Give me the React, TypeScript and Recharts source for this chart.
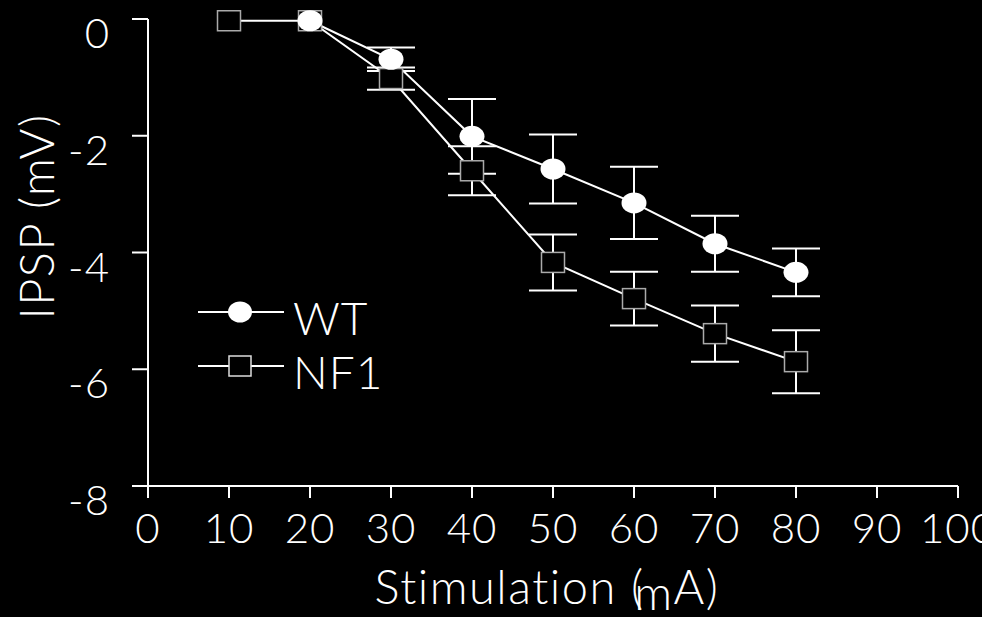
import { LineChart, Line, XAxis, YAxis, ErrorBar, Legend, Label } from "recharts";

const FONT = "Lato, 'Open Sans', sans-serif";
const W = 300;

// stimulation intensity (x) and IPSP amplitude (mV), mean ± SEM
const stimulation = [10, 20, 30, 40, 50, 60, 70, 80];
const wtMean = [null, -0.03, -0.69, -2.01, -2.57, -3.15, -3.85, -4.34];
const wtSem = [null, 0, 0.2, 0.64, 0.59, 0.62, 0.48, 0.41];
const nf1Mean = [-0.03, -0.03, -1.02, -2.6, -4.17, -4.79, -5.39, -5.87];
const nf1Sem = [0, 0, 0.19, 0.42, 0.48, 0.46, 0.48, 0.54];

const xTicks = [0, 10, 20, 30, 40, 50, 60, 70, 80, 90, 100];
const yTicks = [-8, -6, -4, -2, 0];

const data = stimulation.map((s, i) => ({
  stim: s,
  wt: wtMean[i],
  wtErr: wtSem[i],
  nf1: nf1Mean[i],
  nf1Err: nf1Sem[i],
}));

const CircleDot = (props: any) => {
  const { cx, cy, index } = props;
  if (cx == null || cy == null) return <g key={`wt-${index}`} />;
  return <ellipse key={`wt-${index}`} cx={cx} cy={cy} rx={12.5} ry={10.5} fill="#fff" />;
};

const SquareDot = (props: any) => {
  const { cx, cy, index } = props;
  if (cx == null || cy == null) return <g key={`nf-${index}`} />;
  return (
    <rect key={`nf-${index}`} x={cx - 11.5} y={cy - 10} width={23} height={20} fill="#000" stroke="#aaa" strokeWidth={1.5} />
  );
};

const XTick = (props: any) => {
  const { x, y, payload } = props;
  return (
    <text x={x} y={y} dy={43} textAnchor="middle" fill="#fff" fontSize={42} fontWeight={W} fontFamily={FONT} letterSpacing={1}>
      {payload.value}
    </text>
  );
};

const YTick = (props: any) => {
  const { x, y, payload } = props;
  return (
    <text x={x} y={y} dy={29} textAnchor="end" fill="#fff" fontSize={42} fontWeight={W} fontFamily={FONT} letterSpacing={1}>
      {payload.value}
    </text>
  );
};

const XTitle = (props: any) => {
  const { viewBox } = props;
  const cx = viewBox.x + viewBox.width / 2 - 6;
  return (
    <text x={cx} y={604} textAnchor="middle" fill="#fff" fontSize={47} fontWeight={W} fontFamily={FONT} letterSpacing={1.5}>
      Stimulation (<tspan dx={-10} dy={6}>m</tspan>
      <tspan dy={-6}>A)</tspan>
    </text>
  );
};

const YTitle = (props: any) => {
  const { viewBox } = props;
  const cy = viewBox.y + viewBox.height / 2 - 36;
  return (
    <text x={54} y={cy} transform={`rotate(-90 54 ${cy})`} textAnchor="middle" fill="#fff" fontSize={47} fontWeight={W} fontFamily={FONT} letterSpacing={1.5}>
      IPSP (mV)
    </text>
  );
};

const legendRows = [
  { name: "WT", shape: "circle" },
  { name: "NF1", shape: "square" },
];

const LegendBox = () => (
  <div style={{ fontFamily: FONT, color: "#fff", fontWeight: W }}>
    {legendRows.map((r) => (
      <div key={r.name} style={{ display: "flex", alignItems: "center", height: 54 }}>
        <svg width={86} height={30} style={{ display: "block" }}>
          <line x1={0} y1={15} x2={86} y2={15} stroke="#fff" strokeWidth={2} />
          {r.shape === "circle" ? (
            <ellipse cx={42} cy={15} rx={12} ry={10.5} fill="#fff" />
          ) : (
            <rect x={31} y={5} width={22} height={20} fill="#000" stroke="#ddd" strokeWidth={1.5} />
          )}
        </svg>
        <span style={{ fontSize: 46, marginLeft: 9, lineHeight: "54px", position: "relative", top: 6, letterSpacing: 1 }}>{r.name}</span>
      </div>
    ))}
  </div>
);

export default function App() {
  return (
    <div style={{ position: "fixed", left: 0, top: 0, width: 982, height: 617, background: "#000" }}>
      <LineChart width={982} height={617} data={data} margin={{ top: 19, right: 24, bottom: 71, left: 0 }}>
        <XAxis
          dataKey="stim"
          type="number"
          domain={[0, 100]}
          ticks={xTicks}
          interval={0}
          height={60}
          stroke="#fff"
          strokeWidth={2}
          tickSize={12}
          tick={<XTick />}
        >
          <Label content={<XTitle />} />
        </XAxis>
        <YAxis
          type="number"
          domain={[-8, 0]}
          ticks={yTicks}
          interval={0}
          width={148}
          stroke="#fff"
          strokeWidth={2}
          tickSize={16}
          tickMargin={22}
          tick={<YTick />}
        >
          <Label content={<YTitle />} />
        </YAxis>
        <Legend
          layout="vertical"
          align="center"
          verticalAlign="middle"
          content={<LegendBox />}
          wrapperStyle={{ left: 198, top: 285, width: 200, height: 108 }}
        />
        <Line
          dataKey="nf1"
          type="linear"
          stroke="#fff"
          strokeWidth={2}
          dot={SquareDot}
          activeDot={false}
          isAnimationActive={false}
        >
          <ErrorBar dataKey="nf1Err" width={24} stroke="#fff" strokeWidth={2} direction="y" />
        </Line>
        <Line
          dataKey="wt"
          type="linear"
          stroke="#fff"
          strokeWidth={2}
          dot={CircleDot}
          activeDot={false}
          isAnimationActive={false}
        >
          <ErrorBar dataKey="wtErr" width={24} stroke="#fff" strokeWidth={2} direction="y" />
        </Line>
      </LineChart>
    </div>
  );
}
